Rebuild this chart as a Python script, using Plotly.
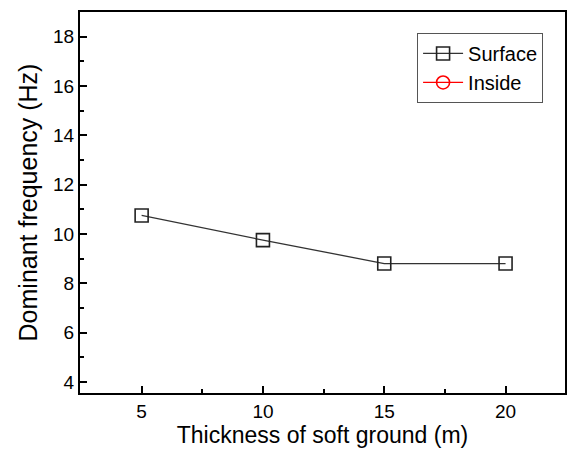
import plotly.graph_objects as go

thickness = [5, 10, 15, 20]
surface_freq = [10.75, 9.75, 8.8, 8.8]
inside_thickness = [None]
inside_freq = [None]

font_family = "Liberation Sans, Arial, sans-serif"

fig = go.Figure()
fig.add_trace(go.Scatter(
    x=thickness, y=surface_freq, name="Surface", mode="lines+markers", showlegend=True,
    line=dict(color="#333333", width=1.3),
    marker=dict(symbol="square-open", size=13, color="#222222", line=dict(width=1.6)),
))
fig.add_trace(go.Scatter(
    x=inside_thickness, y=inside_freq, name="Inside", mode="lines+markers", showlegend=True,
    line=dict(color="red", width=1.3),
    marker=dict(symbol="circle-open", size=13, color="red", line=dict(width=1.6)),
))

axis_common = dict(
    showgrid=False, zeroline=False, showline=True, linecolor="black", linewidth=2,
    mirror=True, ticks="inside", ticklen=7, tickwidth=1.5, tickcolor="black",
    tickfont=dict(family=font_family, size=19, color="black"),
    automargin=False,
)

fig.update_layout(
    width=569, height=451,
    margin=dict(l=80, r=4, t=12, b=58),
    paper_bgcolor="white", plot_bgcolor="white",
    font=dict(family=font_family, color="black"),
    showlegend=True,
    legend=dict(
        x=0.695, y=0.945, xanchor="left", yanchor="top",
        bgcolor="white", bordercolor="#555555", borderwidth=1,
        font=dict(family=font_family, size=20, color="black"),
        itemwidth=40, tracegroupgap=0,
    ),
    xaxis=dict(
        range=[2.46, 22.45], tickmode="linear", tick0=5, dtick=5,
        minor=dict(ticks="inside", ticklen=4, dtick=2.5, tick0=5, tickcolor="black", tickwidth=1.5),
        title=dict(text="Thickness of soft ground (m)", font=dict(family=font_family, size=23, color="black"), standoff=6),
        **axis_common,
    ),
    yaxis=dict(
        range=[3.55, 19.0], tickmode="linear", tick0=4, dtick=2,
        minor=dict(ticks="inside", ticklen=4, dtick=1, tick0=4, tickcolor="black", tickwidth=1.5),
        title=dict(text="Dominant frequency (Hz)", font=dict(family=font_family, size=25, color="black"), standoff=8),
        **axis_common,
    ),
)

fig.write_html(
    "out.html",
    config={"displayModeBar": False},
    post_script="document.body.style.margin='0px';document.body.style.overflow='hidden';",
)
